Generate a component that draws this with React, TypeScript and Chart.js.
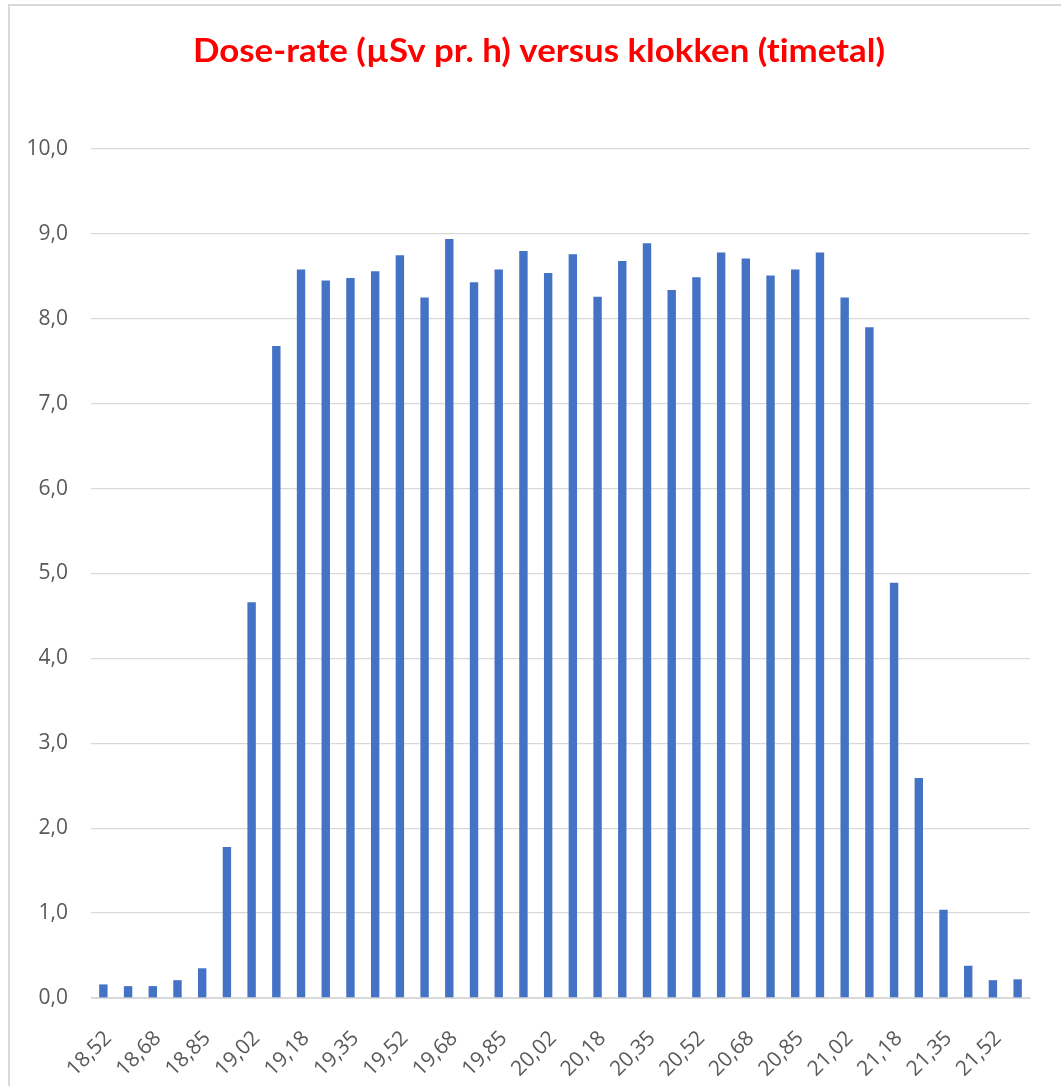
import React, { useEffect, useRef } from "react";
import { Chart, registerables } from "chart.js";

Chart.register(...registerables);

const TITLE = "Dose-rate (µSv pr. h) versus klokken (timetal)";

const categories: string[] = [
  "18,52", "18,60", "18,68", "18,77", "18,85", "18,93", "19,02", "19,10",
  "19,18", "19,27", "19,35", "19,43", "19,52", "19,60", "19,68", "19,77",
  "19,85", "19,93", "20,02", "20,10", "20,18", "20,27", "20,35", "20,43",
  "20,52", "20,60", "20,68", "20,77", "20,85", "20,93", "21,02", "21,10",
  "21,18", "21,27", "21,35", "21,43", "21,52", "21,60",
];

const doseRate: number[] = [
  0.16, 0.14, 0.14, 0.21, 0.35, 1.78, 4.66, 7.68,
  8.58, 8.45, 8.48, 8.56, 8.75, 8.25, 8.94, 8.43,
  8.58, 8.80, 8.54, 8.76, 8.26, 8.68, 8.89, 8.34,
  8.49, 8.78, 8.71, 8.51, 8.58, 8.78, 8.25, 7.90,
  4.89, 2.59, 1.04, 0.38, 0.21, 0.22,
];

const yTicksMin = 0;
const yTicksMax = 10;
const yStep = 1;

const titlePlugin = {
  id: "customTitle",
  afterDraw(chart: any) {
    const ctx = chart.ctx as any;
    ctx.save();
    ctx.font = "bold 33px Lato, 'Open Sans', sans-serif";
    try {
      ctx.letterSpacing = "0.01px";
    } catch (e) {}
    ctx.fillStyle = "#FF0000";
    ctx.textAlign = "left";
    ctx.textBaseline = "alphabetic";
    const w = ctx.measureText(TITLE).width;
    const target = 692;
    const sx = target / w;
    ctx.translate(193, 62);
    ctx.scale(sx, 1);
    ctx.fillText(TITLE, 0, 0);
    ctx.restore();
  },
};

export default function App() {
  const ref = useRef<HTMLCanvasElement | null>(null);

  useEffect(() => {
    if (!ref.current) return;
    const chart = new Chart(ref.current, {
      type: "bar",
      data: {
        labels: categories,
        datasets: [
          {
            data: doseRate,
            backgroundColor: "#4472C4",
            borderWidth: 0,
            barPercentage: 0.34,
            categoryPercentage: 1,
          },
        ],
      },
      plugins: [titlePlugin],
      options: {
        animation: false,
        responsive: false,
        devicePixelRatio: 1,
        layout: { padding: { left: 10, right: 31, top: 149, bottom: 0 } },
        plugins: {
          legend: { display: false },
          title: { display: false },
          tooltip: { enabled: false },
        },
        scales: {
          x: {
            grid: { display: false, drawTicks: false },
            border: { display: true, color: "#D9D9D9", width: 1 },
            ticks: {
              autoSkip: false,
              maxRotation: 45,
              minRotation: 45,
              padding: 28,
              labelOffset: 5,
              color: "#595959",
              font: { family: "'Open Sans', sans-serif", size: 21 },
              callback: (_v: any, idx: number) => (idx % 2 === 0 ? categories[idx] : ""),
            },
            afterFit: (scale: any) => {
              scale.height = 88;
              scale.paddingLeft = 0;
              scale.paddingRight = 0;
            },
          },
          y: {
            min: yTicksMin,
            max: yTicksMax,
            grid: { color: "#D9D9D9", lineWidth: 1.3, drawTicks: false },
            border: { display: false },
            ticks: {
              stepSize: yStep,
              padding: 23,
              color: "#595959",
              font: { family: "'Open Sans', sans-serif", size: 21 },
              callback: (v: any) => Number(v).toFixed(1).replace(".", ","),
            },
            afterFit: (scale: any) => {
              scale.width = 81;
              scale.paddingTop = 0;
              scale.paddingBottom = 0;
            },
          },
        },
      },
    });
    return () => chart.destroy();
  }, []);

  return (
    <div style={{ position: "absolute", left: 0, top: 0, width: 1061, height: 1086, overflow: "hidden", background: "#fff" }}>
      <div
        style={{
          position: "absolute",
          left: 8,
          top: 4,
          width: 1100,
          height: 1120,
          border: "2px solid #D9D9D9",
          boxSizing: "border-box",
        }}
      />
      <canvas ref={ref} width={1061} height={1086} style={{ position: "absolute", left: 0, top: 0 }} />
    </div>
  );
}
